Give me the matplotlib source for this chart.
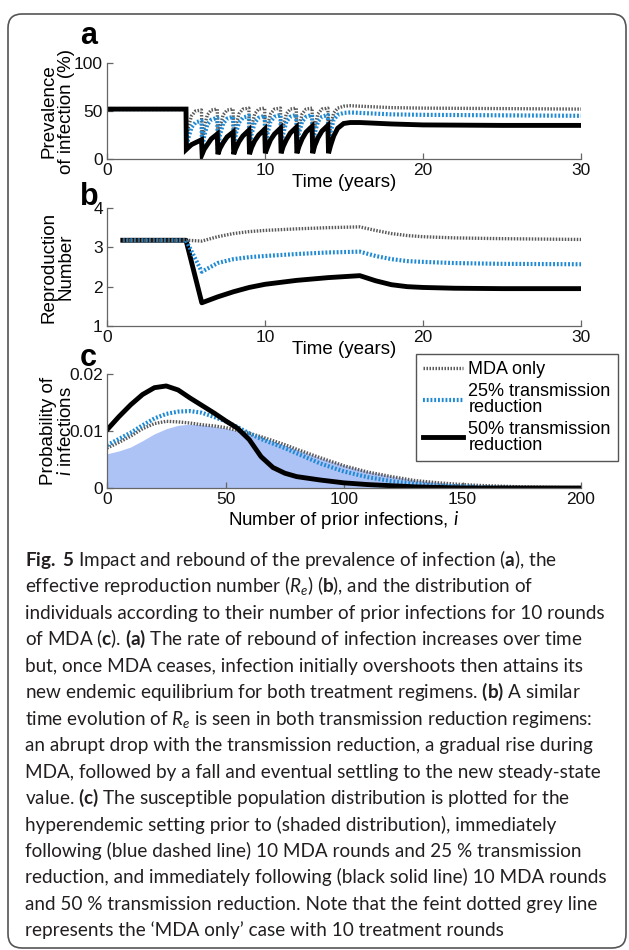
import matplotlib
matplotlib.use("Agg")
import matplotlib.pyplot as plt
from matplotlib.patches import FancyBboxPatch
from matplotlib.transforms import IdentityTransform

# ---------------- data ----------------
# (a) prevalence of infection (%), 10 MDA rounds from year 5
dose_years = [5, 6, 7, 8, 9, 10, 11, 12, 13, 14]
cycle_offsets = [0.02, 0.15, 0.35, 0.6, 0.98]
pre_years = [0, 5]
pre_prevalence = [52, 52]
post_years = [15.4, 16, 18, 20, 25, 30]

mda_only_cycles = [
    [13, 33, 45, 50, 51],
    [12, 33, 46, 51, 52],
    [12, 33, 46, 51, 52],
    [12, 34, 47, 52, 53],
    [12, 34, 47, 52, 53],
    [12, 34, 47, 52, 53],
    [12, 34, 47, 52, 53],
    [12, 34, 47, 52, 53],
    [12, 34, 47, 52, 53],
    [12, 35, 48, 53, 55],
]
mda_only_post = [55.5, 55, 53.5, 53, 52.5, 52]

red25_cycles = [
    [10, 22, 33, 38, 40],
    [10, 24, 36, 41, 43],
    [10, 25, 37, 42, 44],
    [10, 26, 38, 43, 45],
    [10, 26, 38, 43, 45],
    [10, 26, 39, 44, 46],
    [10, 26, 39, 44, 46],
    [10, 27, 39, 44, 46],
    [10, 27, 39, 44, 46],
    [10, 28, 41, 46, 48],
]
red25_post = [48.5, 48, 46.5, 46, 45.5, 45]

red50_cycles = [
    [10, 12, 15, 17, 20],
    [5, 10, 15, 21, 26],
    [5, 11, 17, 23, 28],
    [5, 11, 18, 24, 30],
    [5, 12, 19, 25, 31],
    [6, 12, 20, 26, 32],
    [6, 13, 20, 27, 33],
    [6, 13, 21, 28, 34],
    [6, 14, 22, 29, 35],
    [6, 14, 24, 32, 37],
]
red50_post = [38, 38, 36.5, 35.5, 35, 35]

# (b) effective reproduction number
re_years = [1, 5, 6, 7, 8, 9, 10, 12, 14, 16, 17, 18, 19, 20, 22, 25, 30]
re_mda_only = [3.18, 3.18, 3.16, 3.27, 3.35, 3.40, 3.43, 3.47, 3.50, 3.52, 3.43, 3.35, 3.30, 3.27, 3.24, 3.22, 3.20]
re_red25 = [3.18, 3.18, 2.38, 2.60, 2.70, 2.75, 2.78, 2.83, 2.87, 2.89, 2.78, 2.70, 2.65, 2.63, 2.60, 2.58, 2.57]
re_red50 = [3.18, 3.18, 1.59, 1.74, 1.87, 1.98, 2.06, 2.16, 2.23, 2.28, 2.15, 2.05, 2.00, 1.98, 1.96, 1.95, 1.95]

# (c) distribution of prior infections
n_prior = [0, 5, 10, 15, 20, 25, 30, 35, 40, 45, 50, 55, 60, 65, 70, 75, 80,
           90, 100, 110, 120, 130, 140, 150, 160, 175, 200]
p_before = [0.0060, 0.0065, 0.0072, 0.0083, 0.0095, 0.0104, 0.0110, 0.0112, 0.0111, 0.0108,
            0.0105, 0.0100, 0.0095, 0.0089, 0.0082, 0.0075, 0.0068, 0.0053, 0.0040, 0.0029,
            0.0021, 0.0014, 0.0010, 0.0006, 0.0004, 0.0002, 0.0]
p_mda_only = [0.0070, 0.0080, 0.0091, 0.0104, 0.0113, 0.0117, 0.0116, 0.0114, 0.0111, 0.0109,
              0.0106, 0.0101, 0.0096, 0.0090, 0.0083, 0.0076, 0.0068, 0.0053, 0.0039, 0.0028,
              0.0020, 0.0013, 0.0009, 0.0006, 0.0004, 0.0002, 0.0]
p_red25 = [0.0075, 0.0086, 0.0097, 0.0110, 0.0122, 0.0130, 0.0134, 0.0135, 0.0132, 0.0125,
           0.0117, 0.0107, 0.0096, 0.0086, 0.0078, 0.0070, 0.0061, 0.0043, 0.0029, 0.0019,
           0.0012, 0.0007, 0.0004, 0.0003, 0.0001, 0.0, 0.0]
p_red50 = [0.0102, 0.0125, 0.0146, 0.0164, 0.0176, 0.0179, 0.0172, 0.0158, 0.0145, 0.0132,
           0.0118, 0.0105, 0.0085, 0.0055, 0.0036, 0.0026, 0.0020, 0.0014, 0.0009, 0.0006,
           0.0004, 0.0002, 0.0001, 0.0, 0.0, 0.0, 0.0]

legend_labels = ["MDA only", "25% transmission\nreduction", "50% transmission\nreduction"]

caption_lines = [
    r"$\mathbf{Fig.}$ $\mathbf{5}$ Impact and rebound of the prevalence of infection ($\mathbf{a}$), the",
    r"effective reproduction number ($R_e$) ($\mathbf{b}$), and the distribution of",
    "individuals according to their number of prior infections for 10 rounds",
    r"of MDA ($\mathbf{c}$). $\mathbf{(a)}$ The rate of rebound of infection increases over time",
    "but, once MDA ceases, infection initially overshoots then attains its",
    r"new endemic equilibrium for both treatment regimens. $\mathbf{(b)}$ A similar",
    r"time evolution of $R_e$ is seen in both transmission reduction regimens:",
    "an abrupt drop with the transmission reduction, a gradual rise during",
    "MDA, followed by a fall and eventual settling to the new steady-state",
    r"value. $\mathbf{(c)}$ The susceptible population distribution is plotted for the",
    "hyperendemic setting prior to (shaded distribution), immediately",
    "following (blue dashed line) 10 MDA rounds and 25 % transmission",
    "reduction, and immediately following (black solid line) 10 MDA rounds",
    "and 50 % transmission reduction. Note that the feint dotted grey line",
    "represents the \u2018MDA only\u2019 case with 10 treatment rounds",
]

# ---------------- style ----------------
plt.rcParams["font.family"] = ["Liberation Sans", "DejaVu Sans"]
plt.rcParams["mathtext.fontset"] = "custom"
plt.rcParams["mathtext.rm"] = "Lato"
plt.rcParams["mathtext.it"] = "Lato:italic"
plt.rcParams["mathtext.bf"] = "Lato:bold"

GREY = "#5a5a5a"
BLUE = "#1f8ad4"
SHADE = "#adc2f5"
AXC = "#666666"
DOT = (0, (0.45, 0.45))
LABEL_FS = 13.5

W, H = 629, 950


def px_axes(fig, left, top, right, bottom):
    return fig.add_axes([left / W, 1 - bottom / H, (right - left) / W, (bottom - top) / H])


def style_axes(ax):
    for s in ["top", "right"]:
        ax.spines[s].set_visible(False)
    for s in ["left", "bottom"]:
        ax.spines[s].set_color(AXC)
        ax.spines[s].set_linewidth(0.9)
    ax.tick_params(direction="in", length=4, width=0.9, color=AXC, labelsize=12.5,
                   labelcolor="#111111", pad=3)


def cycle_series(cycles, post):
    t = list(pre_years)
    y = list(pre_prevalence)
    for d, vals in zip(dose_years, cycles):
        for o, v in zip(cycle_offsets, vals):
            t.append(d + o)
            y.append(v)
    t += post_years
    y += post
    return t, y


fig = plt.figure(figsize=(W / 100, H / 100), dpi=100)

# border
fig.patches.append(FancyBboxPatch((8, 2), 618, 934, boxstyle="round,pad=0,rounding_size=14",
                                  transform=IdentityTransform(), fill=False,
                                  edgecolor="#555555", linewidth=1.2, figure=fig))

# ---- panel a ----
ax = px_axes(fig, 107, 63, 581, 159)
style_axes(ax)
t, y = cycle_series(mda_only_cycles, mda_only_post)
ax.plot(t, y, color=GREY, lw=2.4, linestyle=DOT, dash_capstyle="butt")
t, y = cycle_series(red25_cycles, red25_post)
ax.plot(t, y, color=BLUE, lw=3.0, linestyle=DOT, dash_capstyle="butt")
t, y = cycle_series(red50_cycles, red50_post)
ax.plot(t, y, color="black", lw=3.5, solid_joinstyle="miter")
ax.set_xlim(0, 30)
ax.set_ylim(0, 100)
ax.set_xticks([0, 10, 20, 30])
ax.set_yticks([0, 50, 100])
ax.set_xlabel("Time (years)", fontsize=LABEL_FS, labelpad=-3)
ax.set_ylabel("Prevalence\nof infection (%)", fontsize=LABEL_FS, linespacing=1.0)
ax.yaxis.set_label_coords(-0.068, 0.5)

# ---- panel b ----
ax = px_axes(fig, 107, 208, 581, 326)
style_axes(ax)
ax.plot(re_years, re_red50, color="black", lw=3.5)
ax.plot(re_years, re_red25, color=BLUE, lw=3.0, linestyle=DOT, dash_capstyle="butt")
ax.plot(re_years, re_mda_only, color=GREY, lw=2.4, linestyle=DOT, dash_capstyle="butt")
ax.set_xlim(0, 30)
ax.set_ylim(1, 4)
ax.set_xticks([0, 10, 20, 30])
ax.set_yticks([1, 2, 3, 4])
ax.set_xlabel("Time (years)", fontsize=LABEL_FS, labelpad=-3)
ax.set_ylabel("Reproduction\nNumber", fontsize=LABEL_FS, linespacing=1.0)
ax.yaxis.set_label_coords(-0.068, 0.5)

# ---- panel c ----
ax = px_axes(fig, 107, 374, 581, 488)
style_axes(ax)
ax.fill_between(n_prior, p_before, 0, color=SHADE, linewidth=0)
h1, = ax.plot(n_prior, p_mda_only, color=GREY, lw=2.4, linestyle=DOT, dash_capstyle="butt")
h2, = ax.plot(n_prior, p_red25, color=BLUE, lw=3.0, linestyle=DOT, dash_capstyle="butt")
h3, = ax.plot(n_prior, p_red50, color="black", lw=3.5)
ax.set_xlim(0, 200)
ax.set_ylim(0, 0.02)
ax.set_xticks([0, 50, 100, 150, 200])
ax.set_yticks([0, 0.01, 0.02])
ax.set_yticklabels(["0", "0.01", "0.02"])
ax.set_xlabel("Number of prior infections, $i$", fontsize=LABEL_FS, labelpad=1)
ax.set_ylabel("Probability of\n$i$ infections", fontsize=LABEL_FS, linespacing=1.0)
ax.yaxis.set_label_coords(-0.068, 0.5)
leg = ax.legend([h1, h2, h3], legend_labels, loc="upper left",
                bbox_to_anchor=(416 / W, 1 - 354 / H), bbox_transform=fig.transFigure,
                fontsize=13, frameon=True, fancybox=False, framealpha=1,
                edgecolor="#555555", handlelength=2.2, handletextpad=0.3,
                labelspacing=0.25, borderpad=0.4, borderaxespad=0)
leg.get_frame().set_linewidth(1.0)
for txt in leg.get_texts():
    txt.set_linespacing(0.95)

# panel letters
for letter, xp, yb in [("a", 80, 44), ("b", 80, 205), ("c", 80, 366)]:
    fig.text(xp / W, 1 - yb / H, letter, fontsize=22, fontweight="bold",
             ha="left", va="baseline")

# caption
for k, line in enumerate(caption_lines):
    yb = 566 + 26.45 * k
    fig.text(25 / W, 1 - yb / H, line, fontsize=13.6, family="Lato",
             color="#231f20", ha="left", va="baseline")

fig.savefig("out.png", dpi=100)
